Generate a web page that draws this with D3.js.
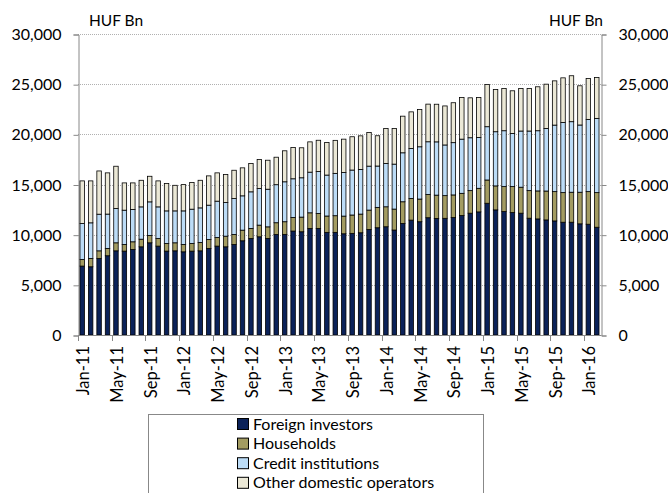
<!DOCTYPE html>
<html>
<head>
<meta charset="utf-8">
<script src="https://cdn.jsdelivr.net/npm/d3@7"></script>
<style>
  body { margin: 0; background: #fff; }
  svg { display: block; font-family: Lato, "Open Sans", sans-serif; }
</style>
</head>
<body>
<div id="chart"></div>
<script>
const months = ["Jan-11","Feb-11","Mar-11","Apr-11","May-11","Jun-11","Jul-11","Aug-11","Sep-11","Oct-11","Nov-11","Dec-11",
  "Jan-12","Feb-12","Mar-12","Apr-12","May-12","Jun-12","Jul-12","Aug-12","Sep-12","Oct-12","Nov-12","Dec-12",
  "Jan-13","Feb-13","Mar-13","Apr-13","May-13","Jun-13","Jul-13","Aug-13","Sep-13","Oct-13","Nov-13","Dec-13",
  "Jan-14","Feb-14","Mar-14","Apr-14","May-14","Jun-14","Jul-14","Aug-14","Sep-14","Oct-14","Nov-14","Dec-14",
  "Jan-15","Feb-15","Mar-15","Apr-15","May-15","Jun-15","Jul-15","Aug-15","Sep-15","Oct-15","Nov-15","Dec-15",
  "Jan-16","Feb-16"];

const foreignInvestors = [6870,6800,7630,7900,8390,8360,8530,8790,9190,8860,8360,8390,
  8290,8360,8390,8620,8860,8790,9020,9390,9620,9790,9620,10020,
  10030,10360,10290,10620,10620,10230,10230,10090,10130,10190,10520,10690,
  10790,10460,11120,11450,11290,11690,11620,11630,11700,11900,12140,12270,
  13130,12470,12300,12200,12140,11640,11570,11470,11370,11240,11240,11080,
  11040,10740];
const households = [660,830,760,730,800,660,760,760,730,760,760,800,
  730,760,830,900,860,1060,1000,1060,1000,1160,1160,1170,
  1260,1360,1460,1560,1490,1630,1660,1760,1830,1860,1930,2030,
  1990,2090,2160,2160,2260,2320,2320,2260,2260,2220,2250,2350,
  2320,2390,2490,2590,2590,2750,2790,2880,2920,2950,2990,3150,
  3250,3450];
const creditInstitutions = [3580,3550,3650,3420,3420,3420,3220,3220,3350,3150,3250,3180,
  3350,3420,3450,3420,3620,3350,3580,3420,3650,3650,3750,3790,
  3980,3850,3920,4050,4180,4080,4220,4350,4480,4450,4380,4120,
  4320,4480,4880,4980,5210,5250,5310,5050,5210,5400,5270,5070,
  5310,5400,5570,5300,5600,5940,6000,6240,6630,7000,7030,6700,
  7200,7400];
const otherDomestic = [4250,4180,4310,4110,4210,2720,2650,2650,2550,2590,2720,2550,
  2620,2650,2750,2920,2820,2790,2820,2790,2820,2890,2890,2740,
  3090,3120,2990,3020,3120,3250,3290,3320,3320,3350,3350,3020,
  3490,3550,3650,3650,3720,3750,3750,3890,3980,4150,3980,3980,
  4210,4210,4210,4250,4240,4240,4380,4410,4410,4440,4580,3910,
  4080,4080];

const seriesNames = ["Foreign investors", "Households", "Credit institutions", "Other domestic operators"];
const seriesColors = ["#0b2259", "#a39c62", "#bcdcf7", "#ebe8d6"];
const yTicks = [0, 5000, 10000, 15000, 20000, 25000, 30000];

const W = 668, H = 493;
const plot = { left: 78, right: 601, top: 34, bottom: 335 };

const data = months.map((m, i) => ({
  month: m,
  "Foreign investors": foreignInvestors[i],
  "Households": households[i],
  "Credit institutions": creditInstitutions[i],
  "Other domestic operators": otherDomestic[i]
}));

const stacked = d3.stack().keys(seriesNames)(data);

const svg = d3.select("#chart").append("svg")
  .attr("width", W)
  .attr("height", H);

const x = d3.scaleBand()
  .domain(months)
  .range([plot.left, plot.right])
  .paddingInner(0.47)
  .paddingOuter(0.235);

const y = d3.scaleLinear()
  .domain([0, 30000])
  .range([plot.bottom, plot.top]);

const fmt = d3.format(",");

// gridlines
svg.append("g")
  .selectAll("line")
  .data(yTicks.filter(d => d > 0))
  .join("line")
  .attr("x1", plot.left)
  .attr("x2", plot.right)
  .attr("y1", d => Math.round(y(d)) + 0.5)
  .attr("y2", d => Math.round(y(d)) + 0.5)
  .attr("stroke", "#b0b0b0")
  .attr("stroke-dasharray", "1,1");

// left axis
const leftAxis = svg.append("g")
  .attr("transform", `translate(${plot.left + 0.5},0.5)`)
  .call(d3.axisLeft(y).tickValues(yTicks).tickFormat(fmt).tickSize(5).tickPadding(12));

// right axis
const rightAxis = svg.append("g")
  .attr("transform", `translate(${plot.right + 0.5},0.5)`)
  .call(d3.axisRight(y).tickValues(yTicks).tickFormat(fmt).tickSize(5).tickPadding(12));

[leftAxis, rightAxis].forEach(g => {
  g.select(".domain").attr("stroke", "#888");
  g.selectAll(".tick line").attr("stroke", "#888");
  g.selectAll(".tick text")
    .attr("fill", "#000")
    .style("font-size", "16px")
    .style("font-family", "Lato, sans-serif");
});

// bars
svg.append("g")
  .selectAll("g")
  .data(stacked)
  .join("g")
  .attr("fill", (d, i) => seriesColors[i])
  .selectAll("rect")
  .data(d => d)
  .join("rect")
  .attr("x", d => x(d.data.month))
  .attr("y", d => y(d[1]))
  .attr("width", x.bandwidth())
  .attr("height", d => y(d[0]) - y(d[1]))
  .attr("stroke", "#000")
  .attr("stroke-width", 0.8);

// bottom axis: ticks at category boundaries every 4 months
const boundary = i => plot.left + i * ((plot.right - plot.left) / months.length);
const tickIdx = d3.range(0, months.length, 4);

svg.append("line")
  .attr("x1", plot.left)
  .attr("x2", plot.right + 0.5)
  .attr("y1", plot.bottom + 0.5)
  .attr("y2", plot.bottom + 0.5)
  .attr("stroke", "#888");

svg.append("g")
  .selectAll("line")
  .data(tickIdx)
  .join("line")
  .attr("x1", i => Math.round(boundary(i)) + 0.5)
  .attr("x2", i => Math.round(boundary(i)) + 0.5)
  .attr("y1", plot.bottom)
  .attr("y2", plot.bottom + 6)
  .attr("stroke", "#888");

svg.append("g")
  .selectAll("text")
  .data(tickIdx)
  .join("text")
  .attr("transform", i => `translate(${x(months[i]) + x.bandwidth() / 2 + 7},${plot.bottom + 11}) rotate(-90)`)
  .attr("text-anchor", "end")
  .style("font-size", "16.5px")
  .text(i => months[i]);

// unit labels
svg.append("text")
  .attr("x", 89)
  .attr("y", 26)
  .style("font-size", "15.5px")
  .text("HUF Bn");
svg.append("text")
  .attr("x", 603)
  .attr("y", 26)
  .attr("text-anchor", "end")
  .style("font-size", "15.5px")
  .text("HUF Bn");

// legend
const legend = svg.append("g");
legend.append("rect")
  .attr("x", 148.5)
  .attr("y", 414.5)
  .attr("width", 335)
  .attr("height", 100)
  .attr("fill", "#fff")
  .attr("stroke", "#888");

const item = legend.selectAll("g.item")
  .data(seriesNames)
  .join("g")
  .attr("class", "item")
  .attr("transform", (d, i) => `translate(237,${424 + i * 19.6})`);

item.append("rect")
  .attr("x", 0.5)
  .attr("y", -5.5)
  .attr("width", 11)
  .attr("height", 11)
  .attr("fill", (d, i) => seriesColors[i])
  .attr("stroke", "#000");

item.append("text")
  .attr("x", 16)
  .attr("y", 5.5)
  .style("font-size", "16px")
  .text(d => d);
</script>
</body>
</html>
